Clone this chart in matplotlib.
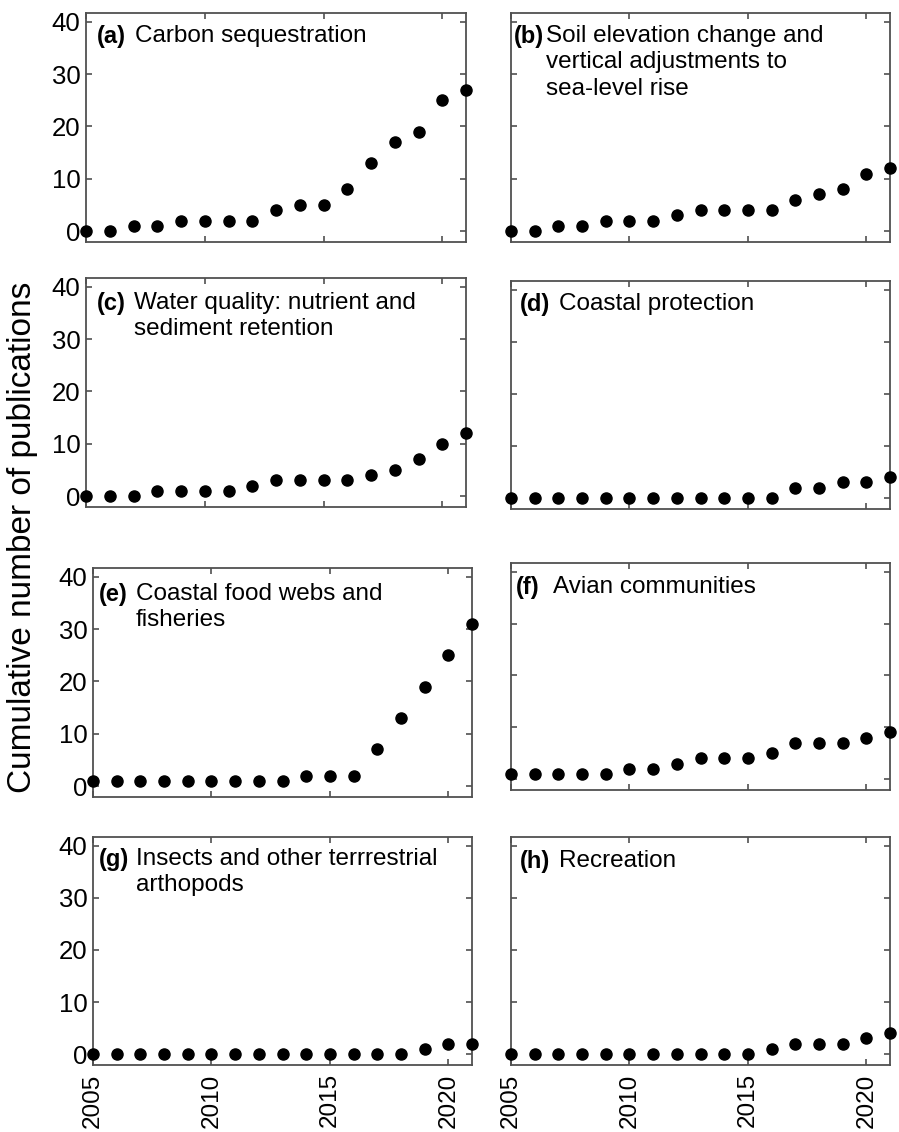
import numpy as np
import matplotlib.pyplot as plt

plt.rcParams['font.family'] = ['Liberation Sans', 'DejaVu Sans']

years = np.arange(2005, 2022)

carbon = [0, 0, 1, 1, 2, 2, 2, 2, 4, 5, 5, 8, 13, 17, 19, 25, 27]
soil_elev = [0, 0, 1, 1, 2, 2, 2, 3, 4, 4, 4, 4, 6, 7, 8, 11, 12]
water_quality = [0, 0, 0, 1, 1, 1, 1, 2, 3, 3, 3, 3, 4, 5, 7, 10, 12]
coastal_prot = [0, 0, 0, 0, 0, 0, 0, 0, 0, 0, 0, 0, 2, 2, 3, 3, 4]
food_webs = [1, 1, 1, 1, 1, 1, 1, 1, 1, 2, 2, 2, 7, 13, 19, 25, 31]
avian = [1, 1, 1, 1, 1, 2, 2, 3, 4, 4, 4, 5, 7, 7, 7, 8, 9]
insects = [0, 0, 0, 0, 0, 0, 0, 0, 0, 0, 0, 0, 0, 0, 1, 2, 2]
recreation = [0, 0, 0, 0, 0, 0, 0, 0, 0, 0, 0, 1, 2, 2, 2, 3, 4]

series = [carbon, soil_elev, water_quality, coastal_prot,
          food_webs, avian, insects, recreation]
letters = ['(a)', '(b)', '(c)', '(d)', '(e)', '(f)', '(g)', '(h)']
titles = ['Carbon sequestration',
          'Soil elevation change and\nvertical adjustments to\nsea-level rise',
          'Water quality: nutrient and\nsediment retention',
          'Coastal protection',
          'Coastal food webs and\nfisheries',
          'Avian communities',
          'Insects and other terrrestrial\narthopods',
          'Recreation']
yticks = [0, 10, 20, 30, 40]
xticks = [2005, 2010, 2015, 2020]

W, H = 899, 1132
# panel boxes in pixels: left, top, right, bottom
boxes = [(86, 13, 466, 242), (511, 13, 890, 242),
         (86, 278, 466, 507), (511, 281, 890, 509),
         (93, 568, 472, 797), (511, 563, 890, 790),
         (93, 837, 472, 1065), (511, 837, 890, 1065)]
# label / body text x offsets (px from left spine), y offset from top
txt_off = [(11, 49, 12), (3, 35, 12), (11, 48, 14), (9, 48, 12),
           (6, 43, 15), (5, 42, 13), (6, 43, 11), (9, 48, 13)]

fig = plt.figure(figsize=(W / 100, H / 100), dpi=100)
spine_col = '#505050'

for i, (l, t, r, b) in enumerate(boxes):
    ax = fig.add_axes([l / W, 1 - b / H, (r - l) / W, (b - t) / H])
    ax.plot(years, series[i], 'o', color='black', ms=8, clip_on=False, zorder=3)
    ax.set_xlim(2005, 2021)
    ax.set_ylim(-2.1, 41.7)
    ax.set_xticks(xticks)
    ax.set_yticks(yticks)
    ax.tick_params(direction='in', top=True, right=True, length=4, width=1.2,
                   color=spine_col, labelsize=18.5, pad=4)
    ax.tick_params(axis='x', pad=6, labelsize=17.5)
    for s in ax.spines.values():
        s.set_color(spine_col)
        s.set_linewidth(1.3)
    if i % 2 == 1:
        ax.set_yticklabels([])
    if i < 6:
        ax.set_xticklabels([])
    else:
        ax.set_xticklabels([str(x) for x in xticks], rotation=90)
    lx, bx, dy = txt_off[i]
    ax.annotate(letters[i], (0, 1), xycoords='axes fraction', xytext=(lx, -dy),
                textcoords='offset pixels', ha='left', va='top',
                fontsize=17, fontweight='bold')
    ax.annotate(titles[i], (0, 1), xycoords='axes fraction', xytext=(bx, -dy),
                textcoords='offset pixels', ha='left', va='top',
                fontsize=17.5, linespacing=1.26)

fig.text(23 / W, 1 - 537 / H, 'Cumulative number of publications', rotation=90,
         ha='center', va='center', fontsize=24)

plt.savefig('out.png', dpi=100)
